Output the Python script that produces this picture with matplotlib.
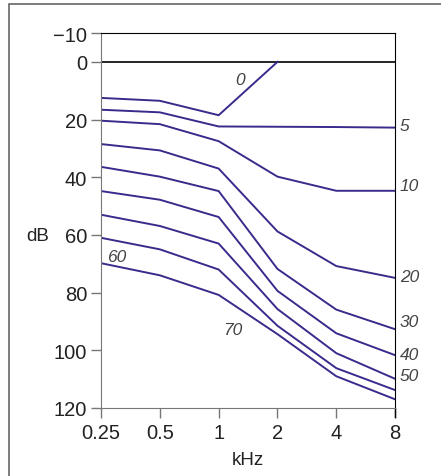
import matplotlib
matplotlib.use('Agg')
from matplotlib import pyplot as plt
from matplotlib.patches import Rectangle
import numpy as np

plt.rcParams['font.family'] = ['Liberation Sans', 'DejaVu Sans']

freqs = ['0.25', '0.5', '1', '2', '4', '8']
yticks = [-10, 0, 20, 40, 60, 80, 100, 120]

# loss contours (dB) at each frequency
c0 = [12.5, 13.5, 18.5, 0]
c5 = [16.6, 17.5, 22.4, 22.5, 22.6, 22.8]
c10 = [20.4, 21.6, 27.5, 39.8, 44.7, 44.7]
c20 = [28.5, 30.7, 37.0, 58.8, 70.8, 74.9]
c30 = [36.4, 39.8, 44.8, 71.8, 85.9, 92.7]
c40 = [44.8, 47.8, 53.8, 79.4, 94.1, 101.7]
c50 = [53.0, 56.9, 63.0, 85.7, 101.0, 109.9]
c60 = [61.0, 65.0, 72.0, 91.5, 106.2, 113.8]
c70 = [69.8, 74.0, 80.8, 94.4, 109.0, 117.0]

curves = [c0, c5, c10, c20, c30, c40, c50, c60, c70]

# label text, x index, dB
labels = [('0', 2.36, 6.2), ('5', 5.08, 22.0), ('10', 5.08, 43.0), ('20', 5.08, 74.5),
          ('30', 5.08, 90.0), ('40', 5.08, 101.6), ('50', 5.08, 108.7),
          ('60', 0.26, 67.5), ('70', 2.24, 92.7)]

col = '#3b2a8c'
grey = '#777777'

fig = plt.figure(figsize=(4.41, 4.77), dpi=100)
ax = fig.add_axes([0.229, 0.1426, 0.667, 0.7861])

x = np.arange(len(freqs))
ax.axhline(0, color='black', lw=1.2, zorder=1)
for c in curves:
    ax.plot(x[:len(c)], c, color=col, lw=1.4, zorder=2)

for t, xi, yi in labels:
    ax.text(xi, yi, t, style='italic', fontsize=12.5, color='#444444',
            ha='left' if xi > 5 else 'center', va='center')

ax.set_xlim(0, 5)
ax.set_ylim(120, -10)
ax.set_xticks(x)
ax.set_xticklabels(freqs)
ax.set_yticks(yticks)
ax.tick_params(axis='both', direction='out', length=7, width=1, color=grey,
               labelsize=14.5, labelcolor='#222222', pad=3)
ax.tick_params(axis='x', pad=4)
for s in ['left', 'bottom']:
    ax.spines[s].set_color(grey)
for s in ['top', 'right']:
    ax.spines[s].set_color('black')
ax.set_xlabel('kHz', fontsize=13.5, color='#222222', labelpad=6)
ax.set_ylabel('dB', fontsize=13.5, color='#222222', rotation=0, va='center')
ax.yaxis.set_label_coords(-0.215, 0.46)

# right spine tick below axis at 8 kHz
ax.plot([5, 5], [120, 123], color='black', lw=1, clip_on=False)

fig.patches.append(Rectangle((9 / 441, -0.1), 1.2, 1.1 - 5 / 477, transform=fig.transFigure,
                             fill=False, edgecolor='#666666', lw=1.2))

fig.savefig('out.png', dpi=100)
